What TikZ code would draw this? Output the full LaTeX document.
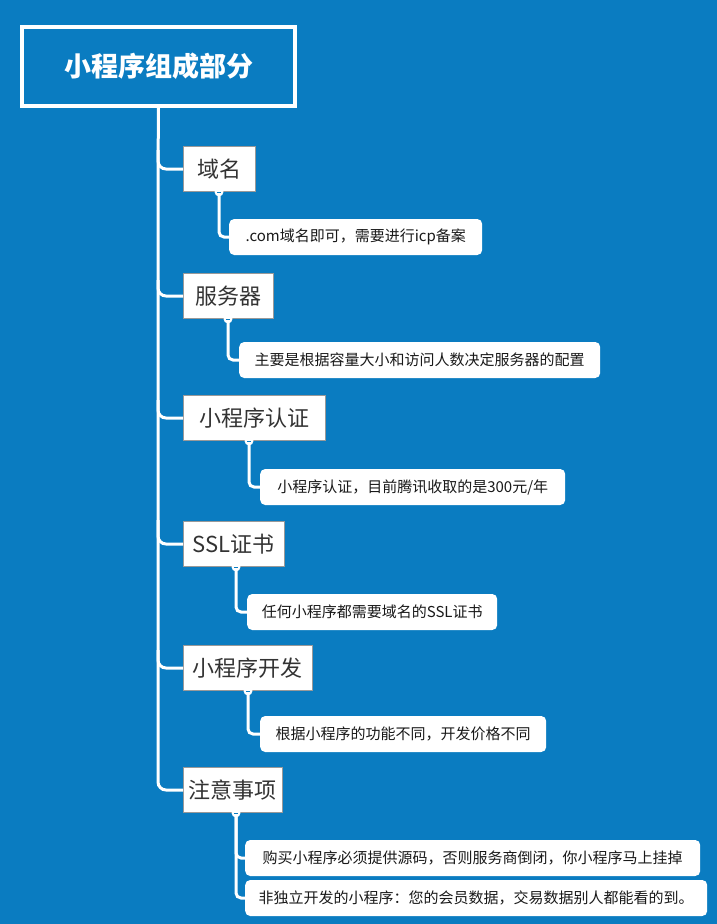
\documentclass[tikz,border=0pt]{standalone}
\usepackage{fontspec}
\setmainfont{Noto Sans CJK SC}
\begin{document}
\begin{tikzpicture}[x=1pt,y=-1pt,
 topic/.style={draw=black!40,fill=white,line width=0.8pt,minimum height=45,inner xsep=3,anchor=west,font=\fontsize{22}{24}\selectfont,text=black!80},
 sub/.style={fill=white,rounded corners=5,minimum height=36,inner xsep=8,anchor=west,font=\fontsize{15}{17}\selectfont,text=black!90},
 ln/.style={white,line width=3pt,rounded corners=8},
 tog/.style={circle,fill=white,inner sep=0,minimum size=9}]
\definecolor{bg}{HTML}{0A7CC1}
\fill[bg] (0,0) rectangle (717,924);
\useasboundingbox (0,0) rectangle (717,924);
\node[draw=white,line width=4pt,fill=bg,minimum width=273,minimum height=79,text=white,font=\fontsize{27}{29}\selectfont\bfseries] (root) at (158.5,66.5) {小程序组成部分};
\foreach \n/\y/\w/\t in {a/169/72/域名,b/296/90/服务器,c/418/142/小程序认证,d/544/101/SSL证书,e/668/129/小程序开发,f/790/99/注意事项}{
 \node[topic,minimum width=\w] (\n) at (183,\y) {\t};
}
\draw[ln] (root.south) -- (158,169) -- (a.west);
\draw[ln] (158,150) -- (158,296) -- (b.west);
\draw[ln] (158,280) -- (158,418) -- (c.west);
\draw[ln] (158,400) -- (158,544) -- (d.west);
\draw[ln] (158,520) -- (158,668) -- (e.west);
\draw[ln] (158,650) -- (158,790) -- (f.west);
% subtopics
\node[sub,minimum width=253] (a1) at (229,237) {.com域名即可，需要进行icp备案};
\node[sub,minimum width=361] (b1) at (239,360) {主要是根据容量大小和访问人数决定服务器的配置};
\node[sub,minimum width=305] (c1) at (260,487) {小程序认证，目前腾讯收取的是300元/年};
\node[sub,minimum width=250] (d1) at (247,612) {任何小程序都需要域名的SSL证书};
\node[sub,minimum width=286] (e1) at (260,734) {根据小程序的功能不同，开发价格不同};
\node[sub,minimum width=455] (f1) at (245,858) {购买小程序必须提供源码，否则服务商倒闭，你小程序马上挂掉};
\node[sub,minimum width=462] (f2) at (245,898) {非独立开发的小程序：您的会员数据，交易数据别人都能看的到。};
\foreach \p/\c/\x in {a/a1/219,b/b1/228,c/c1/249,d/d1/236,e/e1/248,f/f1/236}{
 \draw[ln,rounded corners=5] (\x,0 |- \p.south) -- (\x,0 |- \c.west) -- (\c.west);
}
\draw[ln,rounded corners=5] (236,0 |- f.south) -- (236,898) -- (f2.west);
\foreach \p/\x in {a/219,b/228,c/249,d/236,e/248,f/236}{
 \node[tog] (t\p) at (\x,0 |- \p.south) {};
 \draw[bg,line width=0.8pt] ([xshift=-2]t\p.center) -- ([xshift=2]t\p.center);
}
\end{tikzpicture}
\end{document}
